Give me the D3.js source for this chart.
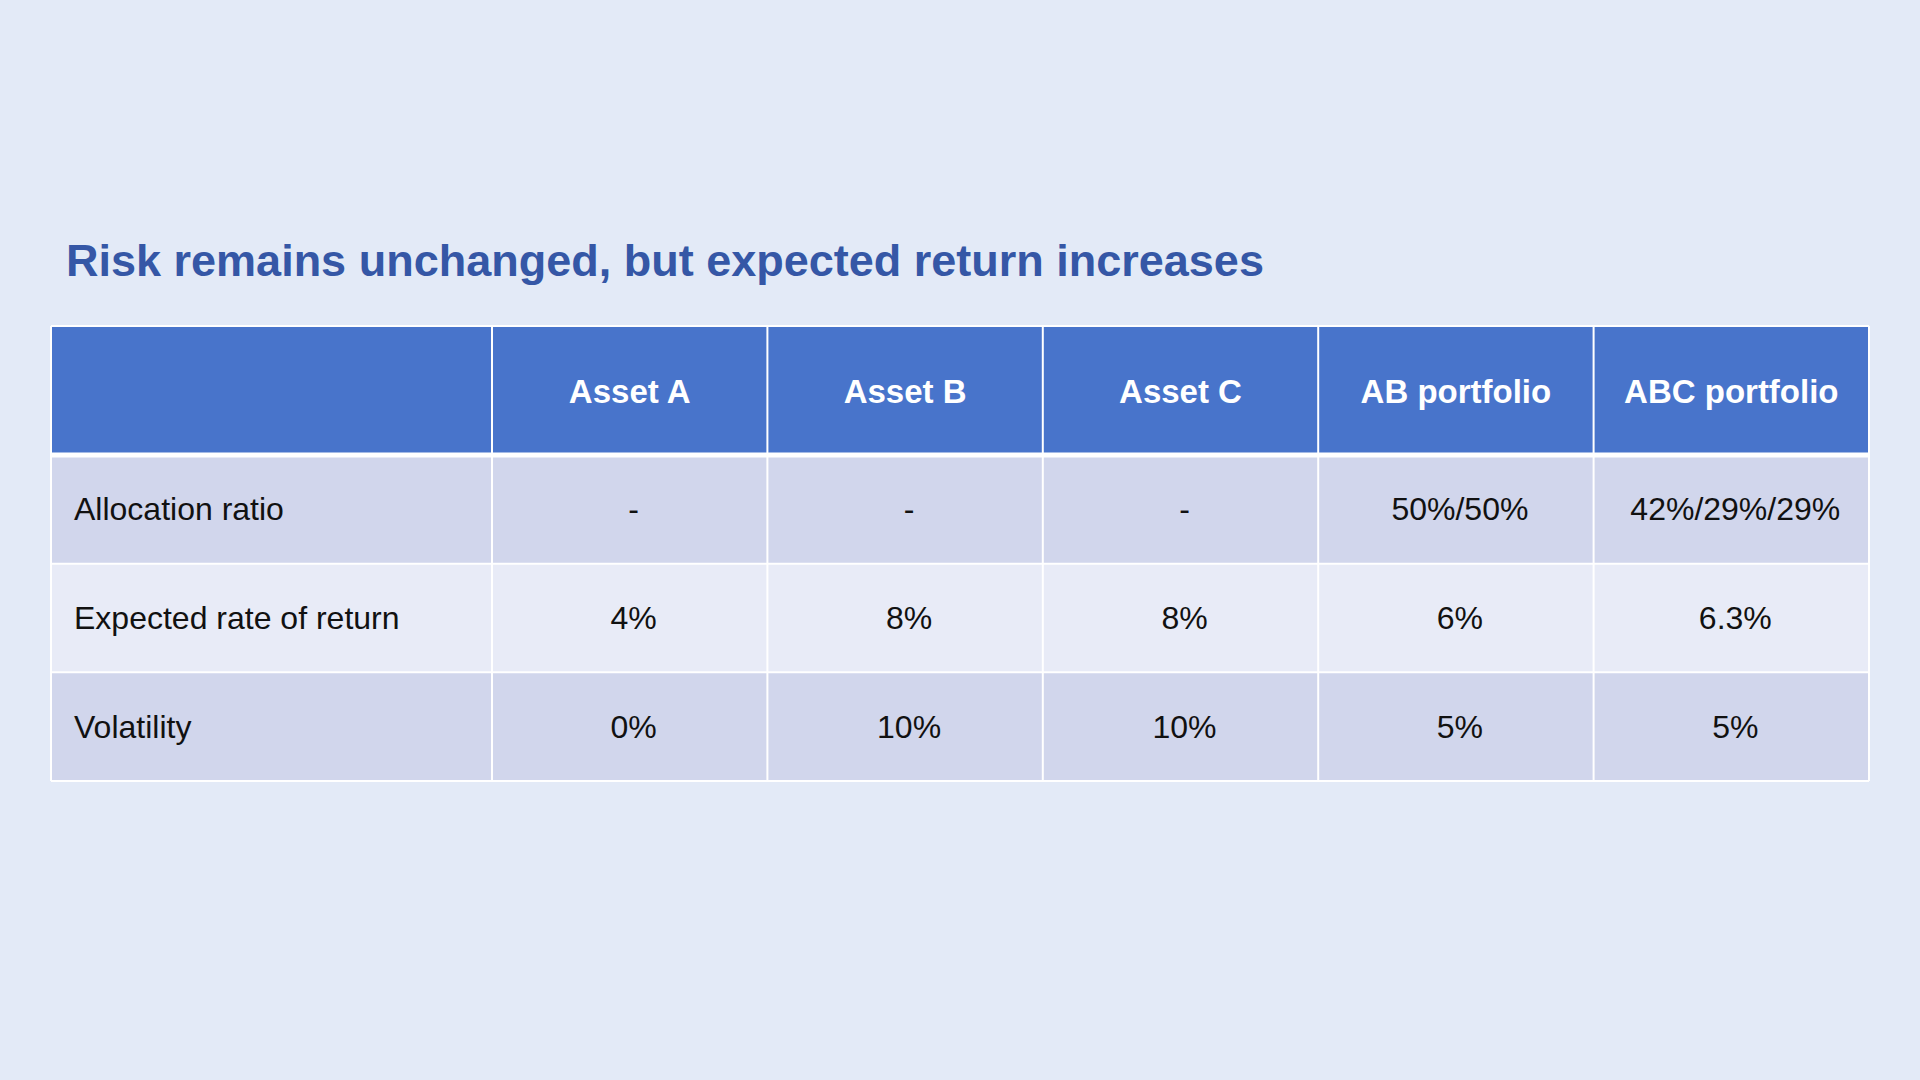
<!DOCTYPE html>
<html>
<head>
<meta charset="utf-8">
<script src="https://cdn.jsdelivr.net/npm/d3@7"></script>
<style>
  body { margin: 0; background: #e3eaf7; }
  svg { display: block; font-family: "Liberation Sans", Arial, sans-serif; }
</style>
</head>
<body>
<div id="chart"></div>
<script>
const title = "Risk remains unchanged, but expected return increases";
const columns = ["Asset A", "Asset B", "Asset C", "AB portfolio", "ABC portfolio"];
const rowLabels = ["Allocation ratio", "Expected rate of return", "Volatility"];
const allocation = ["-", "-", "-", "50%/50%", "42%/29%/29%"];
const expectedReturn = ["4%", "8%", "8%", "6%", "6.3%"];
const volatility = ["0%", "10%", "10%", "5%", "5%"];
const rows = [allocation, expectedReturn, volatility];

const width = 1920, height = 1080;
const svg = d3.select("#chart").append("svg")
  .attr("width", width).attr("height", height)
  .attr("viewBox", [0, 0, width, height]);

svg.append("rect").attr("width", width).attr("height", height).attr("fill", "#e3eaf7");

svg.append("text")
  .attr("x", 66).attr("y", 276)
  .attr("fill", "#3557a6")
  .attr("font-size", 45).attr("font-weight", "bold")
  .text(title);

const left = 51, labelRight = 492, right = 1869;
const headTop = 326, headBottom = 455, bottom = 781;

const x = d3.scaleBand().domain(columns).range([labelRight, right]);
const y = d3.scaleBand().domain(rowLabels).range([headBottom, bottom]);
const rowFill = ["#d1d6ec", "#e8ebf7", "#d1d6ec"];

// header
const head = svg.append("g");
head.append("rect").attr("x", left).attr("y", headTop)
  .attr("width", labelRight - left).attr("height", headBottom - headTop)
  .attr("fill", "#4874cb");
head.selectAll("g.col").data(columns).join("g").attr("class", "col")
  .each(function (d) {
    const g = d3.select(this);
    g.append("rect").attr("x", x(d)).attr("y", headTop)
      .attr("width", x.bandwidth()).attr("height", headBottom - headTop)
      .attr("fill", "#4874cb");
    g.append("text").attr("x", x(d) + x.bandwidth() / 2)
      .attr("y", (headTop + headBottom) / 2 + 12)
      .attr("text-anchor", "middle").attr("fill", "#fff")
      .attr("font-size", 33).attr("font-weight", "bold").text(d);
  });

// body rows
const body = svg.selectAll("g.row").data(rowLabels).join("g").attr("class", "row");
body.each(function (label, i) {
  const g = d3.select(this);
  const cy = y(label) + y.bandwidth() / 2 + 11;
  g.append("rect").attr("x", left).attr("y", y(label))
    .attr("width", labelRight - left).attr("height", y.bandwidth())
    .attr("fill", rowFill[i]);
  g.append("text").attr("x", left + 23).attr("y", cy)
    .attr("font-size", 32).attr("fill", "#111").text(label);
  columns.forEach((c, j) => {
    g.append("rect").attr("x", x(c)).attr("y", y(label))
      .attr("width", x.bandwidth()).attr("height", y.bandwidth())
      .attr("fill", rowFill[i]);
    g.append("text").attr("x", x(c) + x.bandwidth() / 2 + 4).attr("y", cy)
      .attr("text-anchor", "middle").attr("font-size", 32).attr("fill", "#111")
      .text(rows[i][j]);
  });
});

// grid lines
const grid = svg.append("g").attr("stroke", "#fff").attr("stroke-width", 2);
[left, labelRight, ...columns.map(c => x(c) + x.bandwidth())].forEach(v =>
  grid.append("line").attr("x1", v).attr("x2", v).attr("y1", headTop).attr("y2", bottom));
[headTop, ...rowLabels.map(r => y(r) + y.bandwidth())].forEach(v =>
  grid.append("line").attr("x1", left).attr("x2", right).attr("y1", v).attr("y2", v));
grid.append("line").attr("x1", left).attr("x2", right)
  .attr("y1", headBottom).attr("y2", headBottom).attr("stroke-width", 5);
</script>
</body>
</html>
